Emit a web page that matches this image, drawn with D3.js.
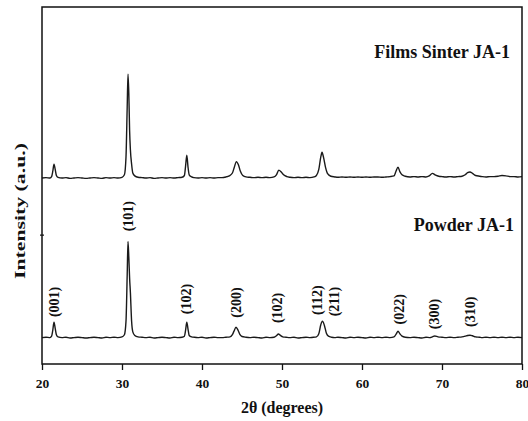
<!DOCTYPE html>
<html>
<head>
<meta charset="utf-8">
<script src="https://cdn.jsdelivr.net/npm/d3@7"></script>
<style>
  body { margin: 0; background: #fff; }
  svg { display: block; }
  text { font-family: "Liberation Serif", "Times New Roman", serif; font-weight: bold; fill: #111; }
</style>
</head>
<body>
<svg id="chart" width="528" height="421"></svg>
<script>
// XRD patterns, 2θ in degrees, intensity in arbitrary units (films trace carries its stacking offset)
const powderAngle = [
  20.0, 20.5, 21.0, 21.2, 21.35, 21.5, 21.65, 21.8, 22.0, 22.5, 23.0, 23.5, 24.0, 24.5, 25.0, 25.5,
  26.0, 26.5, 27.0, 27.5, 28.0, 28.5, 29.0, 29.5, 30.0, 30.3, 30.5, 30.65, 30.75, 30.85, 30.95, 31.05,
  31.2, 31.35, 31.6, 32.0, 32.5, 33.0, 33.5, 34.0, 34.5, 35.0, 35.5, 36.0, 36.5, 37.0, 37.5, 37.8,
  37.95, 38.1, 38.25, 38.4, 38.7, 39.0, 39.5, 40.0, 40.5, 41.0, 41.5, 42.0, 42.5, 43.0, 43.5, 43.8,
  44.0, 44.25, 44.5, 44.75, 45.0, 45.5, 46.0, 46.5, 47.0, 47.5, 48.0, 48.5, 49.0, 49.3, 49.55, 49.8,
  50.1, 50.5, 51.0, 51.5, 52.0, 52.5, 53.0, 53.5, 54.0, 54.3, 54.6, 54.85, 55.05, 55.3, 55.55, 55.8,
  56.2, 56.6, 57.0, 57.5, 58.0, 58.5, 59.0, 59.5, 60.0, 60.5, 61.0, 61.5, 62.0, 62.5, 63.0, 63.5,
  64.0, 64.3, 64.5, 64.75, 65.0, 65.4, 66.0, 66.5, 67.0, 67.5, 68.0, 68.5, 68.8, 69.1, 69.5, 70.0,
  70.5, 71.0, 71.5, 72.0, 72.5, 72.9, 73.2, 73.5, 73.8, 74.2, 74.7, 75.0, 75.5, 76.0, 76.5, 77.0,
  77.5, 78.0, 78.5, 79.0, 79.5, 80.0
];
const powderIntensity = [
  74, 75, 74, 78, 95, 117, 100, 82, 76, 74, 75, 73, 74, 75, 74, 73,
  74, 75, 74, 73, 75, 74, 75, 74, 76, 82, 120, 250, 343, 300, 241, 200,
  120, 90, 80, 76, 75, 74, 75, 73, 74, 75, 74, 73, 75, 74, 75, 78,
  95, 117, 98, 80, 76, 75, 74, 75, 73, 74, 75, 74, 74, 75, 76, 82,
  92, 103, 95, 82, 77, 75, 74, 75, 74, 73, 75, 74, 75, 79, 84, 80,
  76, 75, 74, 75, 73, 74, 75, 74, 75, 76, 85, 110, 120, 108, 86, 78,
  75, 74, 75, 74, 73, 75, 74, 75, 74, 73, 75, 74, 75, 74, 75, 74,
  76, 85, 92, 84, 78, 75, 74, 75, 74, 73, 75, 74, 76, 78.5, 76, 75,
  74, 75, 74, 75, 76, 78, 80, 80.5, 79, 76, 75, 74, 75, 74, 75, 74,
  75, 74, 75, 74, 75, 74
];

const filmAngle = [
  20.0, 20.5, 21.0, 21.2, 21.35, 21.5, 21.65, 21.8, 22.0, 22.5, 23.0, 23.5, 24.0, 24.5, 25.0, 25.5,
  26.0, 26.5, 27.0, 27.5, 28.0, 28.5, 29.0, 29.5, 30.0, 30.3, 30.5, 30.65, 30.75, 30.85, 30.95, 31.05,
  31.2, 31.35, 31.6, 32.0, 32.5, 33.0, 33.5, 34.0, 34.5, 35.0, 35.5, 36.0, 36.5, 37.0, 37.5, 37.8,
  37.95, 38.1, 38.25, 38.4, 38.7, 39.0, 39.5, 40.0, 40.5, 41.0, 41.5, 42.0, 42.5, 43.0, 43.4, 43.8,
  44.05, 44.3, 44.55, 44.8, 45.1, 45.5, 46.0, 46.5, 47.0, 47.5, 48.0, 48.5, 49.0, 49.3, 49.6, 49.9,
  50.2, 50.6, 51.0, 51.5, 52.0, 52.5, 53.0, 53.5, 54.0, 54.3, 54.6, 54.85, 55.0, 55.2, 55.45, 55.7,
  56.1, 56.6, 57.0, 57.5, 58.0, 58.5, 59.0, 59.5, 60.0, 60.5, 61.0, 61.5, 62.0, 62.5, 63.0, 63.5,
  64.0, 64.25, 64.5, 64.75, 65.0, 65.4, 66.0, 66.5, 67.0, 67.5, 68.0, 68.4, 68.8, 69.2, 69.6, 70.0,
  70.5, 71.0, 71.5, 72.0, 72.5, 72.9, 73.2, 73.5, 73.8, 74.2, 74.7, 75.0, 75.5, 76.0, 76.5, 77.0,
  77.5, 78.0, 78.5, 79.0, 79.5, 80.0
];
const filmIntensity = [
  521, 522, 521, 525, 540, 560, 545, 528, 523, 521, 522, 520, 521, 522, 521, 520,
  521, 522, 521, 520, 522, 521, 522, 521, 523, 530, 580, 720, 812, 760, 655, 600,
  560, 535, 527, 523, 522, 521, 522, 520, 521, 522, 521, 522, 521, 522, 523, 528,
  555, 585, 552, 530, 524, 522, 521, 522, 521, 522, 521, 522, 522, 524, 527, 535,
  552, 567, 558, 540, 528, 524, 523, 522, 523, 522, 523, 522, 524, 530, 543, 538,
  530, 525, 523, 522, 523, 522, 523, 522, 524, 528, 545, 580, 593, 578, 550, 533,
  526, 524, 523, 524, 523, 524, 523, 524, 523, 524, 523, 524, 524, 523, 524, 525,
  527, 540, 551, 538, 530, 526, 524, 525, 524, 525, 524, 527, 534, 529, 526, 525,
  524, 525, 524, 525, 526, 530, 536, 538, 534, 528, 526, 525, 524, 525, 525, 526,
  528, 527, 525, 525, 524, 525
];

// Miller-index annotations above the powder peaks
const peakLabels = ["(001)", "(101)", "(102)", "(200)", "(102)", "(112)", "(211)", "(022)", "(300)", "(310)"];
const peakLabelAngle = [21.54, 30.75, 38.09, 44.25, 49.41, 54.41, 56.5, 64.63, 69.09, 73.59];
const peakLabelLevel = [174, 414, 182, 172, 157, 179, 175, 153, 140, 146];

const xTicks = [20, 30, 40, 50, 60, 70, 80];
const seriesNames = ["Films Sinter JA-1", "Powder JA-1"];

const svg = d3.select("#chart");
const frame = { left: 42, right: 522, top: 7, bottom: 364 };

const x = d3.scaleLinear().domain([20, 80]).range([frame.left, frame.right]);
const y = d3.scaleLinear().domain([0, 1000]).range([frame.bottom, frame.top]);

const line = d3.line()
  .x(d => x(d[0]))
  .y(d => y(d[1]))
  .curve(d3.curveMonotoneX);

const traceStyle = sel => sel
  .attr("fill", "none")
  .attr("stroke", "#1a1a1a")
  .attr("stroke-width", 1.4)
  .attr("stroke-linejoin", "round");

svg.append("path")
  .datum(d3.zip(filmAngle, filmIntensity))
  .attr("d", line)
  .call(traceStyle);

svg.append("path")
  .datum(d3.zip(powderAngle, powderIntensity))
  .attr("d", line)
  .call(traceStyle);

// bottom axis with ticks and labels
const xAxis = d3.axisBottom(x).tickValues(xTicks).tickSize(6).tickPadding(8).tickFormat(d3.format("d"));
const gx = svg.append("g").attr("transform", `translate(0,${frame.bottom})`).call(xAxis);
gx.select(".domain").remove();
gx.selectAll(".tick line").attr("stroke", "#111").attr("stroke-width", 1.3);
gx.selectAll(".tick text")
  .attr("font-size", 13.5)
  .attr("font-family", "Liberation Serif, Times New Roman, serif")
  .attr("font-weight", "bold")
  .attr("fill", "#111");

// plot frame
svg.append("rect")
  .attr("x", frame.left).attr("y", frame.top)
  .attr("width", frame.right - frame.left).attr("height", frame.bottom - frame.top)
  .attr("fill", "none").attr("stroke", "#111").attr("stroke-width", 1.5);

// small left-axis tick
svg.append("line")
  .attr("x1", frame.left - 2).attr("x2", frame.left + 2)
  .attr("y1", y(361)).attr("y2", y(361))
  .attr("stroke", "#111").attr("stroke-width", 1.2);

// peak annotations
svg.append("g").selectAll("text")
  .data(peakLabels)
  .join("text")
  .attr("transform", (d, i) => `translate(${x(peakLabelAngle[i])},${y(peakLabelLevel[i])}) rotate(-90)`)
  .attr("text-anchor", "middle")
  .attr("dy", "0.33em")
  .attr("font-size", 14)
  .text(d => d);

// series names
svg.append("text")
  .attr("x", 510).attr("y", 58)
  .attr("text-anchor", "end")
  .attr("font-size", 18)
  .text(seriesNames[0]);
svg.append("text")
  .attr("x", 514).attr("y", 231)
  .attr("text-anchor", "end")
  .attr("font-size", 18)
  .text(seriesNames[1]);

// axis titles
svg.append("text")
  .attr("x", 282).attr("y", 413)
  .attr("text-anchor", "middle")
  .attr("font-size", 16)
  .text("2θ (degrees)");

svg.append("text")
  .attr("transform", "translate(25,211) rotate(-90) scale(1.45,1)")
  .attr("text-anchor", "middle")
  .attr("font-size", 15)
  .text("Intensity (a.u.)");
</script>
</body>
</html>
